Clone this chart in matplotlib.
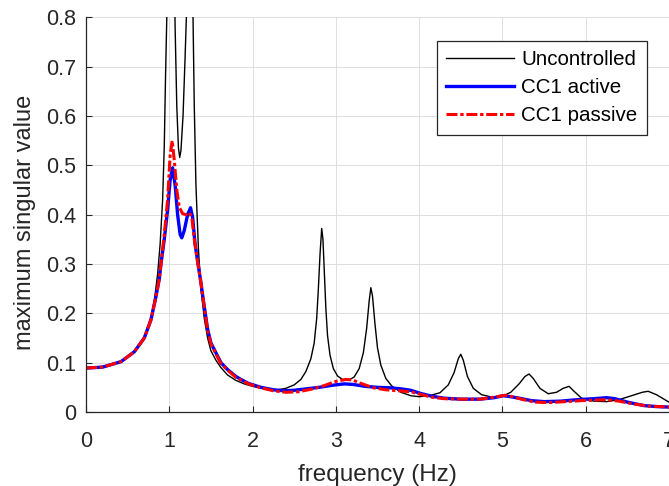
import numpy as np
import matplotlib
matplotlib.use("Agg")
import matplotlib.pyplot as plt

plt.rcParams['font.family'] = ['Liberation Sans', 'DejaVu Sans']

# values (frequency in Hz, max singular value)
f_unc = [0.0, 0.2, 0.4, 0.55, 0.65, 0.72, 0.78, 0.82, 0.86, 0.89, 0.92, 0.94, 0.955, 0.97,
         0.99, 1.01, 1.025, 1.04, 1.055, 1.07, 1.09, 1.11, 1.125, 1.14, 1.165, 1.19, 1.205,
         1.225, 1.245, 1.265, 1.285, 1.30, 1.32, 1.35, 1.38, 1.42, 1.46, 1.50, 1.56, 1.62,
         1.70, 1.80, 1.90, 2.00, 2.15, 2.30, 2.40, 2.50, 2.58, 2.64, 2.70, 2.74, 2.77, 2.79,
         2.81, 2.83, 2.845, 2.86, 2.88, 2.90, 2.93, 2.97, 3.02, 3.08, 3.15, 3.22, 3.28, 3.33,
         3.37, 3.40, 3.42, 3.44, 3.47, 3.50, 3.54, 3.60, 3.67, 3.78, 3.90, 4.00, 4.12, 4.25,
         4.35, 4.42, 4.47, 4.50, 4.53, 4.58, 4.65, 4.75, 4.88, 5.00, 5.10, 5.20, 5.27, 5.32,
         5.37, 5.45, 5.55, 5.65, 5.73, 5.80, 5.86, 5.95, 6.10, 6.25, 6.40, 6.55, 6.68, 6.75,
         6.85, 7.00]
v_unc = [0.090, 0.092, 0.101, 0.118, 0.138, 0.160, 0.190, 0.225, 0.280, 0.340, 0.430, 0.540,
         0.680, 0.800, 1.100, 1.500, 1.600, 1.300, 0.950, 0.780, 0.620, 0.535, 0.516, 0.530,
         0.600, 0.720, 0.800, 1.100, 1.400, 1.100, 0.800, 0.620, 0.460, 0.330, 0.250, 0.190,
         0.150, 0.124, 0.105, 0.090, 0.075, 0.064, 0.057, 0.052, 0.047, 0.045, 0.048, 0.055,
         0.066, 0.082, 0.108, 0.140, 0.190, 0.250, 0.320, 0.372, 0.350, 0.290, 0.210, 0.155,
         0.115, 0.088, 0.073, 0.066, 0.064, 0.071, 0.088, 0.120, 0.170, 0.225, 0.252, 0.235,
         0.178, 0.130, 0.095, 0.068, 0.053, 0.040, 0.033, 0.031, 0.033, 0.039, 0.055, 0.080,
         0.108, 0.117, 0.105, 0.072, 0.048, 0.035, 0.030, 0.032, 0.040, 0.057, 0.072, 0.077,
         0.068, 0.048, 0.037, 0.040, 0.048, 0.052, 0.042, 0.028, 0.022, 0.021, 0.025, 0.033,
         0.040, 0.042, 0.035, 0.020]

f_act = [0.0, 0.2, 0.42, 0.58, 0.70, 0.78, 0.84, 0.88, 0.90, 0.94, 0.98, 1.01, 1.04, 1.07,
         1.10, 1.13, 1.15, 1.18, 1.22, 1.255, 1.28, 1.31, 1.345, 1.38, 1.41, 1.46, 1.50, 1.56,
         1.62, 1.70, 1.80, 1.86, 1.95, 2.10, 2.25, 2.38, 2.50, 2.65, 2.80, 2.95, 3.10, 3.20,
         3.35, 3.50, 3.65, 3.78, 3.90, 4.01, 4.15, 4.30, 4.50, 4.73, 4.90, 5.01, 5.10, 5.20,
         5.35, 5.50, 5.70, 5.90, 6.10, 6.25, 6.35, 6.50, 6.70, 6.85, 7.00]
v_act = [0.089, 0.091, 0.102, 0.122, 0.150, 0.187, 0.234, 0.270, 0.300, 0.350, 0.410, 0.470,
         0.495, 0.460, 0.400, 0.360, 0.353, 0.368, 0.400, 0.414, 0.395, 0.340, 0.300, 0.262,
         0.225, 0.168, 0.140, 0.120, 0.100, 0.086, 0.072, 0.066, 0.058, 0.050, 0.045, 0.043,
         0.044, 0.047, 0.050, 0.054, 0.057, 0.056, 0.052, 0.050, 0.049, 0.047, 0.044, 0.038,
         0.032, 0.028, 0.026, 0.026, 0.029, 0.033, 0.031, 0.028, 0.023, 0.021, 0.022, 0.025,
         0.027, 0.029, 0.027, 0.020, 0.013, 0.011, 0.010]

f_pas = [0.0, 0.2, 0.42, 0.58, 0.70, 0.78, 0.84, 0.88, 0.90, 0.94, 0.98, 1.01, 1.035, 1.06,
         1.09, 1.12, 1.16, 1.20, 1.24, 1.27, 1.30, 1.345, 1.38, 1.41, 1.46, 1.50, 1.56, 1.62,
         1.70, 1.80, 1.86, 1.95, 2.10, 2.25, 2.40, 2.55, 2.70, 2.85, 3.00, 3.12, 3.20, 3.30,
         3.45, 3.60, 3.75, 3.90, 4.01, 4.15, 4.30, 4.50, 4.73, 4.90, 5.03, 5.12, 5.25, 5.40,
         5.55, 5.75, 5.95, 6.10, 6.25, 6.40, 6.55, 6.75, 7.00]
v_pas = [0.089, 0.091, 0.102, 0.122, 0.150, 0.187, 0.234, 0.270, 0.300, 0.360, 0.430, 0.520,
         0.550, 0.510, 0.450, 0.415, 0.402, 0.400, 0.404, 0.395, 0.350, 0.300, 0.262, 0.225,
         0.165, 0.138, 0.118, 0.098, 0.085, 0.070, 0.065, 0.057, 0.049, 0.043, 0.040, 0.041,
         0.046, 0.053, 0.062, 0.066, 0.065, 0.058, 0.049, 0.045, 0.043, 0.041, 0.036, 0.030,
         0.027, 0.026, 0.026, 0.030, 0.034, 0.031, 0.025, 0.020, 0.019, 0.021, 0.023, 0.024,
         0.025, 0.022, 0.017, 0.012, 0.010]

dark = '#262626'

fig = plt.figure(figsize=(6.69, 4.86), dpi=100)
ax = fig.add_axes([86/669, 74/486, 583/669, 394.7/486])

ax.plot(f_unc, v_unc, color='black', lw=1.0, label='Uncontrolled')
ax.plot(f_act, v_act, color='blue', lw=2.4, label='CC1 active')
ax.plot(f_pas, v_pas, color='red', lw=2.2, ls=(0, (3.6, 0.9, 1.1, 0.9)), label='CC1 passive')

ax.set_xlim(0, 7)
ax.set_ylim(0, 0.8)
ax.set_xticks(np.arange(0, 8, 1))
ax.set_yticks(np.arange(0, 0.81, 0.1))
ax.set_yticklabels(['0', '0.1', '0.2', '0.3', '0.4', '0.5', '0.6', '0.7', '0.8'])

ax.grid(True, color='#dedede', lw=0.7)
ax.set_axisbelow(True)
ax.spines['top'].set_visible(False)
ax.spines['right'].set_visible(False)
for s in ['left', 'bottom']:
    ax.spines[s].set_color(dark)
    ax.spines[s].set_linewidth(0.9)
ax.tick_params(direction='in', length=4, width=0.8, colors=dark, labelsize=15.5)
ax.tick_params(axis='x', pad=14)
ax.tick_params(axis='y', pad=7)

ax.set_xlabel('frequency (Hz)', fontsize=17.5, color=dark, labelpad=8)
ax.set_ylabel('maximum singular value', fontsize=17, color=dark)
ax.yaxis.set_label_coords(-0.085, 0.48)

leg = ax.legend(loc='upper right', bbox_to_anchor=(0.962, 0.94), borderaxespad=0,
                fontsize=14.8, handlelength=3.3, handletextpad=0.35, labelspacing=0.44,
                fancybox=False, framealpha=1, edgecolor=dark, borderpad=0.45)
leg.get_frame().set_linewidth(0.9)

fig.savefig('out.png', dpi=100)
